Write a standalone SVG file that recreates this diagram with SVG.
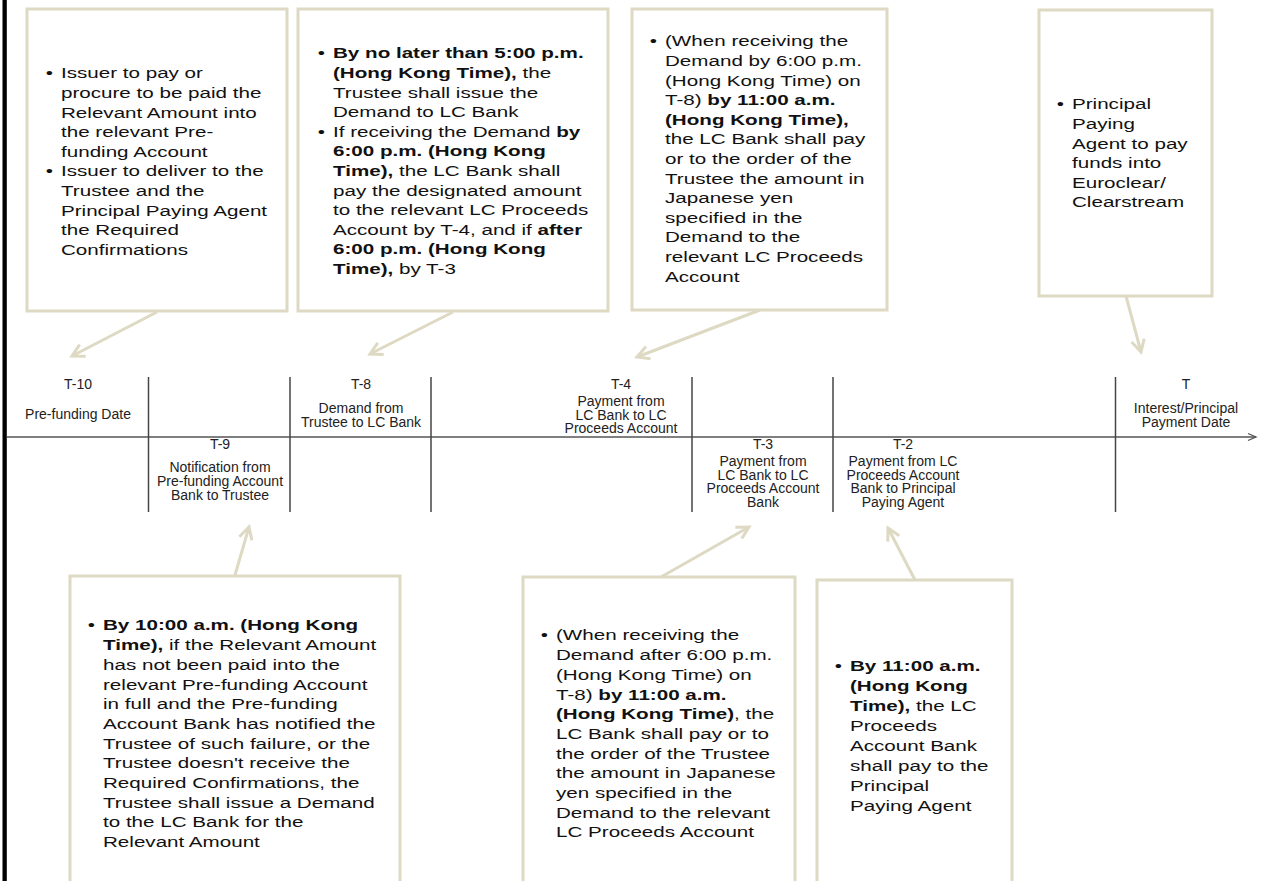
<svg xmlns="http://www.w3.org/2000/svg" width="1262" height="881" viewBox="0 0 1262 881">
<style>
.box{fill:#fff;stroke:#ddd9c3;stroke-width:3}
.bt{font-family:"Liberation Sans",Arial,sans-serif;font-size:15.5px;fill:#111}
.b{font-weight:bold}
.tl{font-family:"Liberation Sans",Arial,sans-serif;font-size:14px;fill:#222;text-anchor:middle}
.conn{stroke:#ddd9c3;stroke-width:3;fill:none;marker-end:url(#ah)}
.axis{stroke:#555;stroke-width:1.5;fill:none}
.tick{stroke:#444;stroke-width:1.5}
</style>
<defs>
<marker id="ah" viewBox="0 0 16 16" refX="14" refY="8" markerWidth="16" markerHeight="16" markerUnits="userSpaceOnUse" orient="auto" overflow="visible">
<path d="M2,1.5 L14,8 L2,14.5" fill="none" stroke="#ddd9c3" stroke-width="3"/>
</marker>
<marker id="ax" viewBox="0 0 10 10" refX="9" refY="5" markerWidth="10" markerHeight="10" markerUnits="userSpaceOnUse" orient="auto" overflow="visible">
<path d="M1,1.5 L9,5 L1,8.5" fill="none" stroke="#555" stroke-width="1.3"/>
</marker>
</defs>
<rect x="0" y="0" width="1262" height="881" fill="#fff"/>
<rect x="2.5" y="0" width="4.3" height="881" fill="#000"/>

<g id="timeline">
<line class="axis" x1="7" y1="437" x2="1256" y2="437" marker-end="url(#ax)"/>
<line class="tick" x1="148.5" y1="377" x2="148.5" y2="512"/>
<line class="tick" x1="290" y1="377" x2="290" y2="512"/>
<line class="tick" x1="431" y1="377" x2="431" y2="512"/>
<line class="tick" x1="692" y1="377" x2="692" y2="512"/>
<line class="tick" x1="833" y1="377" x2="833" y2="512"/>
<line class="tick" x1="1115.5" y1="377" x2="1115.5" y2="512"/>
</g>

<g id="t10"><text class="tl" x="78" y="389">T-10</text><text class="tl" x="78" y="419">Pre-funding Date</text></g>
<g id="t9"><text class="tl" x="220" y="449">T-9</text><text class="tl" x="220" y="472">Notification from</text><text class="tl" x="220" y="486">Pre-funding Account</text><text class="tl" x="220" y="500">Bank to Trustee</text></g>
<g id="t8"><text class="tl" x="361" y="389">T-8</text><text class="tl" x="361" y="413">Demand from</text><text class="tl" x="361" y="427">Trustee to LC Bank</text></g>
<g id="t4"><text class="tl" x="621" y="389">T-4</text><text class="tl" x="621" y="406">Payment from</text><text class="tl" x="621" y="419.5">LC Bank to LC</text><text class="tl" x="621" y="433">Proceeds Account</text></g>
<g id="t3"><text class="tl" x="763" y="449">T-3</text><text class="tl" x="763" y="466">Payment from</text><text class="tl" x="763" y="479.5">LC Bank to LC</text><text class="tl" x="763" y="493">Proceeds Account</text><text class="tl" x="763" y="506.5">Bank</text></g>
<g id="t2"><text class="tl" x="903" y="449">T-2</text><text class="tl" x="903" y="466">Payment from LC</text><text class="tl" x="903" y="479.5">Proceeds Account</text><text class="tl" x="903" y="493">Bank to Principal</text><text class="tl" x="903" y="506.5">Paying Agent</text></g>
<g id="t0"><text class="tl" x="1186" y="389">T</text><text class="tl" x="1186" y="413">Interest/Principal</text><text class="tl" x="1186" y="426.5">Payment Date</text></g>

<g id="connectors">
<line class="conn" x1="157" y1="312" x2="72" y2="356"/>
<line class="conn" x1="453" y1="312" x2="370" y2="354"/>
<line class="conn" x1="760" y1="310" x2="637" y2="357"/>
<line class="conn" x1="1126" y1="296" x2="1141" y2="352"/>
<line class="conn" x1="235" y1="575" x2="249" y2="527"/>
<line class="conn" x1="661" y1="577" x2="749" y2="527"/>
<line class="conn" x1="915" y1="580" x2="888" y2="528"/>
</g>

<g id="box1">
<rect class="box" x="27" y="9" width="260" height="302"/>
<g class="bt" transform="translate(61,0) scale(1.33,1)">
<text x="-11.5" y="78.5">•</text>
<text y="78.5">Issuer to pay or</text>
<text y="98.1">procure to be paid the</text>
<text y="117.7">Relevant Amount into</text>
<text y="137.3">the relevant Pre-</text>
<text y="156.9">funding Account</text>
<text x="-11.5" y="176.5">•</text>
<text y="176.5">Issuer to deliver to the</text>
<text y="196.1">Trustee and the</text>
<text y="215.7">Principal Paying Agent</text>
<text y="235.3">the Required</text>
<text y="254.9">Confirmations</text>
</g>
</g>

<g id="box2">
<rect class="box" x="298" y="9" width="310" height="302"/>
<g class="bt" transform="translate(333,0) scale(1.33,1)">
<text x="-11.5" y="58.5">•</text>
<text y="58.5" class="b">By no later than 5:00 p.m.</text>
<text y="78.1"><tspan class="b">(Hong Kong Time),</tspan> the</text>
<text y="97.7">Trustee shall issue the</text>
<text y="117.3">Demand to LC Bank</text>
<text x="-11.5" y="136.9">•</text>
<text y="136.9">If receiving the Demand <tspan class="b">by</tspan></text>
<text y="156.5" class="b">6:00 p.m. (Hong Kong</text>
<text y="176.1"><tspan class="b">Time),</tspan> the LC Bank shall</text>
<text y="195.7">pay the designated amount</text>
<text y="215.3">to the relevant LC Proceeds</text>
<text y="234.9">Account by T-4, and if <tspan class="b">after</tspan></text>
<text y="254.5" class="b">6:00 p.m. (Hong Kong</text>
<text y="274.1"><tspan class="b">Time),</tspan> by T-3</text>
</g>
</g>

<g id="box3">
<rect class="box" x="632" y="9" width="255" height="301"/>
<g class="bt" transform="translate(665,0) scale(1.33,1)">
<text x="-11.5" y="46.5">•</text>
<text y="46.5">(When receiving the</text>
<text y="66.1">Demand by 6:00 p.m.</text>
<text y="85.7">(Hong Kong Time) on</text>
<text y="105.3">T-8) <tspan class="b">by 11:00 a.m.</tspan></text>
<text y="124.9" class="b">(Hong Kong Time),</text>
<text y="144.5">the LC Bank shall pay</text>
<text y="164.1">or to the order of the</text>
<text y="183.7">Trustee the amount in</text>
<text y="203.3">Japanese yen</text>
<text y="222.9">specified in the</text>
<text y="242.5">Demand to the</text>
<text y="262.1">relevant LC Proceeds</text>
<text y="281.7">Account</text>
</g>
</g>

<g id="box4">
<rect class="box" x="1039" y="10" width="173" height="286"/>
<g class="bt" transform="translate(1072,0) scale(1.33,1)">
<text x="-11.5" y="109.5">•</text>
<text y="109.5">Principal</text>
<text y="129.1">Paying</text>
<text y="148.7">Agent to pay</text>
<text y="168.3">funds into</text>
<text y="187.9">Euroclear/</text>
<text y="207.5">Clearstream</text>
</g>
</g>

<g id="box5">
<rect class="box" x="70" y="576" width="330" height="330"/>
<g class="bt" transform="translate(103,0) scale(1.33,1)">
<text x="-11.5" y="630.5">•</text>
<text y="630.5" class="b">By 10:00 a.m. (Hong Kong</text>
<text y="650.2"><tspan class="b">Time),</tspan> if the Relevant Amount</text>
<text y="669.9">has not been paid into the</text>
<text y="689.6">relevant Pre-funding Account</text>
<text y="709.3">in full and the Pre-funding</text>
<text y="729">Account Bank has notified the</text>
<text y="748.7">Trustee of such failure, or the</text>
<text y="768.4">Trustee doesn't receive the</text>
<text y="788.1">Required Confirmations, the</text>
<text y="807.8">Trustee shall issue a Demand</text>
<text y="827.5">to the LC Bank for the</text>
<text y="847.2">Relevant Amount</text>
</g>
</g>

<g id="box6">
<rect class="box" x="523" y="577" width="272" height="330"/>
<g class="bt" transform="translate(556,0) scale(1.33,1)">
<text x="-11.5" y="640.5">•</text>
<text y="640.5">(When receiving the</text>
<text y="660.2">Demand after 6:00 p.m.</text>
<text y="679.9">(Hong Kong Time) on</text>
<text y="699.6">T-8) <tspan class="b">by 11:00 a.m.</tspan></text>
<text y="719.3"><tspan class="b">(Hong Kong Time)</tspan>, the</text>
<text y="739">LC Bank shall pay or to</text>
<text y="758.7">the order of the Trustee</text>
<text y="778.4">the amount in Japanese</text>
<text y="798.1">yen specified in the</text>
<text y="817.8">Demand to the relevant</text>
<text y="837.5">LC Proceeds Account</text>
</g>
</g>

<g id="box7">
<rect class="box" x="817" y="580" width="195" height="330"/>
<g class="bt" transform="translate(850,0) scale(1.33,1)">
<text x="-11.5" y="671.5">•</text>
<text y="671.5" class="b">By 11:00 a.m.</text>
<text y="691.5" class="b">(Hong Kong</text>
<text y="711.5"><tspan class="b">Time),</tspan> the LC</text>
<text y="731.5">Proceeds</text>
<text y="751.5">Account Bank</text>
<text y="771.5">shall pay to the</text>
<text y="791.5">Principal</text>
<text y="811.5">Paying Agent</text>
</g>
</g>
</svg>
